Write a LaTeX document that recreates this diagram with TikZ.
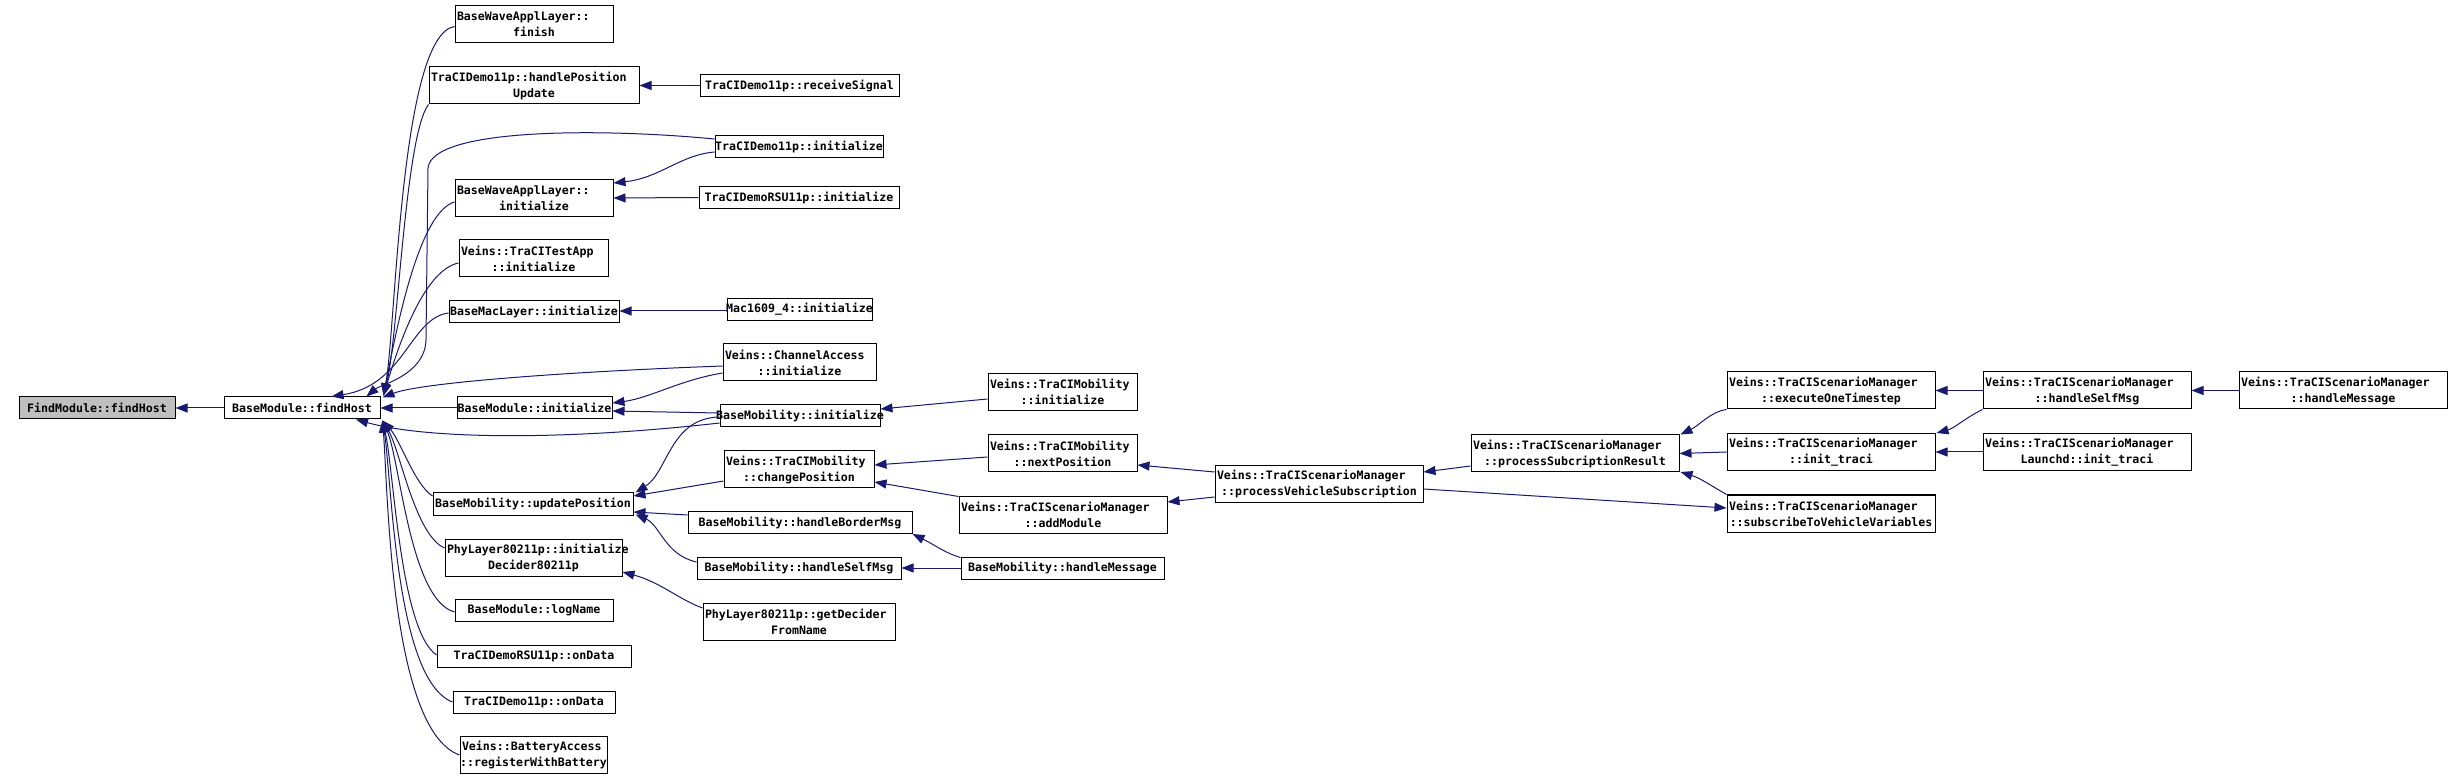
\documentclass[tikz,border=0pt]{standalone}
\usepackage{fontspec}
\newfontfamily\dxf{DejaVu Sans Mono}
\usetikzlibrary{arrows.meta,calc}
\definecolor{dxblue}{HTML}{191970}
\definecolor{dxgray}{HTML}{BFBFBF}
\newcommand\dxc[1]{\hbox to\hsize{\hss#1\hss}}
\tikzset{
 fn/.style={draw=black, line width=0.5pt, fill=white, inner xsep=1pt, inner ysep=0pt, align=left,
   font=\dxf\bfseries\fontsize{5.8pt}{8pt}\selectfont},
 one/.style={minimum height=11pt},
 two/.style={minimum height=18.5pt},
 edge/.style={draw=dxblue, line width=0.5pt, -{Triangle[length=6pt,width=4.5pt]}},
}
\begin{document}
\begin{tikzpicture}[x=0.5pt,y=-0.5pt]
\fill[white] (0,0) rectangle (2463,780);
\useasboundingbox (0,0) rectangle (2463,780);
% ---- nodes
\node[fn,one,fill=dxgray,text width=76pt] (fmfh) at (97,408) {\dxc{FindModule::findHost}};
\node[fn,one,text width=76pt] (bmfh) at (302,408) {\dxc{BaseModule::findHost}};
\node[fn,two,text width=77pt] (bwfin) at (534,24.5) {BaseWaveApplLayer::\\\dxc{finish}};
\node[fn,two,text width=103pt] (hpu) at (534,85.5) {TraCIDemo11p::handlePosition\\\dxc{Update}};
\node[fn,one,text width=97.5pt] (rs) at (799.5,85.5) {\dxc{TraCIDemo11p::receiveSignal}};
\node[fn,one,text width=82pt] (tdinit) at (799,146.5) {\dxc{TraCIDemo11p::initialize}};
\node[fn,two,text width=77pt] (bwinit) at (534,198) {BaseWaveApplLayer::\\\dxc{initialize}};
\node[fn,one,text width=98pt] (rsuinit) at (799,197.5) {\dxc{TraCIDemoRSU11p::initialize}};
\node[fn,two,text width=72.5pt] (tainit) at (533.5,258.5) {Veins::TraCITestApp\\\dxc{::initialize}};
\node[fn,one,text width=83pt] (bmlinit) at (534,312) {\dxc{BaseMacLayer::initialize}};
\node[fn,one,text width=70.5pt] (macinit) at (799.5,309.5) {\dxc{Mac1609\_4::initialize}};
\node[fn,two,text width=74.5pt] (cainit) at (799.5,362.5) {Veins::ChannelAccess\\\dxc{::initialize}};
\node[fn,one,text width=75.5pt] (bminit) at (534.5,408) {\dxc{BaseModule::initialize}};
\node[fn,one,text width=78pt] (bmobinit) at (800,416) {\dxc{BaseMobility::initialize}};
\node[fn,two,text width=73pt] (tmcp) at (799,469.5) {Veins::TraCIMobility\\\dxc{::changePosition}};
\node[fn,one,text width=98pt] (bmobup) at (533,504) {\dxc{BaseMobility::updatePosition}};
\node[fn,one,text width=110pt] (hbm) at (800,522.5) {\dxc{BaseMobility::handleBorderMsg}};
\node[fn,two,text width=86.5pt] (phyinit) at (533.5,557.5) {PhyLayer80211p::initialize\\\dxc{Decider80211p}};
\node[fn,one,text width=100pt] (hsm) at (799,568) {\dxc{BaseMobility::handleSelfMsg}};
\node[fn,two,text width=94pt] (gdfn) at (799,621.5) {PhyLayer80211p::getDecider\\\dxc{FromName}};
\node[fn,one,text width=77pt] (logname) at (534,610.5) {\dxc{BaseModule::logName}};
\node[fn,one,text width=95pt] (rsuond) at (534,656.5) {\dxc{TraCIDemoRSU11p::onData}};
\node[fn,one,text width=79pt] (tdond) at (534,702) {\dxc{TraCIDemo11p::onData}};
\node[fn,two,text width=71.5pt] (batt) at (533.5,755) {Veins::BatteryAccess\\\dxc{::registerWithBattery}};
\node[fn,two,text width=72.5pt] (tminit) at (1062.5,392) {Veins::TraCIMobility\\\dxc{::initialize}};
\node[fn,two,text width=72.5pt] (tmnp) at (1062.5,453.5) {Veins::TraCIMobility\\\dxc{::nextPosition}};
\node[fn,two,text width=102pt] (addmod) at (1063,514.5) {Veins::TraCIScenarioManager\\\dxc{::addModule}};
\node[fn,one,text width=99.5pt] (bmobhm) at (1062.5,568) {\dxc{BaseMobility::handleMessage}};
\node[fn,two,text width=102pt] (pvs) at (1319,484) {Veins::TraCIScenarioManager\\\dxc{::processVehicleSubscription}};
\node[fn,two,text width=102pt] (psr) at (1575,453.5) {Veins::TraCIScenarioManager\\\dxc{::processSubcriptionResult}};
\node[fn,two,text width=102pt] (eot) at (1831,390.5) {Veins::TraCIScenarioManager\\\dxc{::executeOneTimestep}};
\node[fn,two,text width=102pt] (itr) at (1831,452) {Veins::TraCIScenarioManager\\\dxc{::init\_traci}};
\node[fn,two,text width=102pt] (stvv) at (1831,513.5) {Veins::TraCIScenarioManager\\\dxc{::subscribeToVehicleVariables}};
\node[fn,two,text width=102pt] (smhsm) at (2087,390.5) {Veins::TraCIScenarioManager\\\dxc{::handleSelfMsg}};
\node[fn,two,text width=102pt] (smhm) at (2343,390.5) {Veins::TraCIScenarioManager\\\dxc{::handleMessage}};
\node[fn,two,text width=102pt] (lit) at (2087,452) {Veins::TraCIScenarioManager\\\dxc{Launchd::init\_traci}};
% ---- edges
\draw[edge] (bmfh.west) -- (fmfh.east);
% callers above BaseModule::findHost
\draw[edge] ($(bwfin.west)+(0,2)$) .. controls (400,35) and (396,330) .. ($(bmfh.north east)+(3,-1)$);
\draw[edge] (hpu.south west) .. controls (405,135) and (398,340) .. ($(bmfh.north east)+(3,-1)$);
\draw[edge] ($(tdinit.west)+(0,-7.5)$) .. controls (600,128) and (432,128) .. (428,168) -- (426,340) .. controls (425,375) and (380,385) .. ($(bmfh.north east)+(-14,0)$);
\draw[edge] ($(bwinit.west)+(0,4)$) .. controls (420,212) and (398,320) .. ($(bmfh.north east)+(3,-1)$);
\draw[edge] ($(tainit.west)+(0,4.5)$) .. controls (425,270) and (400,340) .. ($(bmfh.north east)+(3,-1)$);
\draw[edge] ($(bmlinit.west)+(0,1)$) .. controls (410,318) and (405,385) .. ($(bmfh.north east)+(-49,0)$);
\draw[edge] ($(cainit.west)+(0,3.5)$) .. controls (560,372) and (420,383) .. ($(bmfh.north east)+(2,1)$);
\draw[edge] (bminit.west) -- (bmfh.east);
\draw[edge] ($(bmobinit.west)+(0,7)$) .. controls (570,440) and (430,440) .. ($(bmfh.south)+(54,0)$);
% callers below BaseModule::findHost
\draw[edge] ($(bmobup.west)+(0,-8)$) .. controls (415,485) and (400,440) .. ($(bmfh.south east)+(2,1)$);
\draw[edge] ($(phyinit.west)+(0,-9.5)$) .. controls (415,535) and (400,450) .. ($(bmfh.south east)+(2,1)$);
\draw[edge] ($(logname.west)+(0,1.5)$) .. controls (410,600) and (400,460) .. ($(bmfh.south east)+(2,1)$);
\draw[edge] ($(rsuond.west)+(0,-1.5)$) .. controls (400,630) and (394,470) .. ($(bmfh.south east)+(2,1)$);
\draw[edge] (tdond.west) .. controls (395,680) and (392,480) .. ($(bmfh.south east)+(2,1)$);
\draw[edge] (batt.west) .. controls (390,730) and (388,490) .. ($(bmfh.south east)+(2,1)$);
% second rank
\draw[edge] (rs.west) -- (hpu.east);
\draw[edge] ($(tdinit.west)+(0,5.5)$) .. controls (680,155) and (660,178) .. ($(bwinit.east)+(0,-15)$);
\draw[edge] (rsuinit.west) -- (bwinit.east);
\draw[edge] ($(macinit.west)+(0,1.5)$) -- ($(bmlinit.east)+(0,-1)$);
\draw[edge] ($(cainit.west)+(0,10.5)$) .. controls (680,380) and (650,398) .. ($(bminit.east)+(0,-5)$);
\draw[edge] ($(bmobinit.west)+(0,-3)$) -- ($(bminit.east)+(0,3)$);
\draw[edge] ($(tminit.west)+(0,7)$) -- ($(bmobinit.east)+(0,-7)$);
\draw[edge] ($(bmobinit.west)+(0,1)$) .. controls (670,418) and (668,472) .. ($(bmobup.north east)+(2,0)$);
\draw[edge] ($(tmcp.west)+(0,11.5)$) -- ($(bmobup.east)+(0,-8)$);
\draw[edge] ($(hbm.west)+(0,-7.5)$) -- ($(bmobup.east)+(0,8)$);
\draw[edge] ($(hsm.west)+(0,-6)$) .. controls (665,555) and (660,525) .. ($(bmobup.south east)+(2,-1)$);
\draw[edge] ($(gdfn.west)+(0,-13.5)$) .. controls (680,600) and (660,582) .. ($(phyinit.east)+(0,14.5)$);
% third rank
\draw[edge] ($(tmnp.west)+(0,3.5)$) -- ($(tmcp.east)+(0,-4.5)$);
\draw[edge] ($(addmod.north west)+(0,1)$) -- ($(tmcp.east)+(0,12.5)$);
\draw[edge] ($(bmobhm.north west)+(0,1)$) .. controls (945,553) and (935,545) .. (hbm.south east);
\draw[edge] (bmobhm.west) -- (hsm.east);
% scenario manager
\draw[edge] ($(pvs.west)+(0,-12)$) -- ($(tmnp.east)+(0,11.5)$);
\draw[edge] ($(pvs.west)+(0,13)$) -- ($(addmod.east)+(0,-12.5)$);
\draw[edge] ($(pvs.east)+(0,5)$) -- ($(stvv.west)+(0,-5.5)$);
\draw[edge] ($(psr.west)+(0,12.5)$) -- ($(pvs.east)+(0,-12)$);
\draw[edge] (eot.south west) .. controls (1710,412) and (1700,425) .. ($(psr.north east)+(1,0)$);
\draw[edge] (itr.west) -- (psr.east);
\draw[edge] (stvv.north west) .. controls (1710,485) and (1700,478) .. ($(psr.south east)+(1,-0.5)$);
\draw[edge] (smhsm.west) -- (eot.east);
\draw[edge] (smhsm.south west) .. controls (1965,418) and (1955,428) .. ($(itr.north east)+(1,0)$);
\draw[edge] (lit.west) -- (itr.east);
\draw[edge] (smhm.west) -- (smhsm.east);
\end{tikzpicture}
\end{document}
